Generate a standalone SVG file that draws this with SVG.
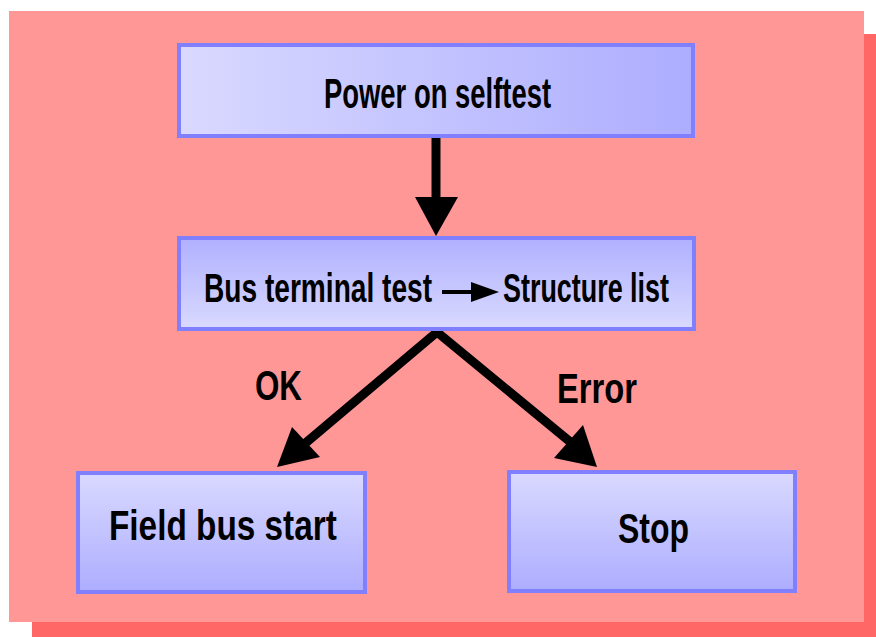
<svg xmlns="http://www.w3.org/2000/svg" width="876" height="637" viewBox="0 0 876 637">
  <defs>
    <linearGradient id="gH" x1="0" y1="0" x2="1" y2="0">
      <stop offset="0" stop-color="#d9d9ff"/>
      <stop offset="1" stop-color="#adadff"/>
    </linearGradient>
    <linearGradient id="gUp" x1="0" y1="0" x2="0" y2="1">
      <stop offset="0" stop-color="#b0b0ff"/>
      <stop offset="1" stop-color="#d9d9ff"/>
    </linearGradient>
    <linearGradient id="gDown" x1="0" y1="0" x2="0" y2="1">
      <stop offset="0" stop-color="#d9d9ff"/>
      <stop offset="1" stop-color="#adadff"/>
    </linearGradient>
  </defs>
  <style>
    .box { stroke: #8080ff; stroke-width: 4; }
    .lbl { font-family: "Liberation Sans", Arial, sans-serif; font-weight: bold; fill: #000; }
    .conn { stroke: #000; stroke-width: 9; fill: none; }
    .head { fill: #000; }
  </style>

  <g id="background">
    <rect x="32" y="34" width="844" height="603" fill="#ff6666"/>
    <rect x="9" y="11" width="855" height="611" fill="#ff9797"/>
  </g>

  <g id="connectors">
    <line class="conn" x1="436" y1="138" x2="436" y2="200"/>
    <polygon class="head" points="415,197 458,197 436,236"/>
    <polyline class="conn" points="302,446 437,332 574,445"/>
    <polygon class="head" points="277,467 292,427 320,457"/>
    <polygon class="head" points="597,467 583,425 554,458"/>
  </g>

  <g id="node-power">
    <rect class="box" x="179" y="45" width="514" height="91" fill="url(#gH)"/>
    <text class="lbl" transform="translate(324,108) scale(0.638,1)" font-size="43">Power on selftest</text>
  </g>

  <g id="node-bus-test">
    <rect class="box" x="179" y="238" width="515" height="91" fill="url(#gUp)"/>
    <text class="lbl" transform="translate(204,302) scale(0.703,1)" font-size="40">Bus terminal test</text>
    <rect x="442" y="290" width="31" height="4" fill="#000"/>
    <polygon points="471,282 471,302 499,292" fill="#000"/>
    <text class="lbl" transform="translate(503,302) scale(0.673,1)" font-size="40">Structure list</text>
  </g>

  <g id="node-field-bus">
    <rect class="box" x="78" y="473" width="287" height="119" fill="url(#gDown)"/>
    <text class="lbl" transform="translate(109,540) scale(0.794,1)" font-size="42">Field bus start</text>
  </g>

  <g id="node-stop">
    <rect class="box" x="509" y="472" width="286" height="119" fill="url(#gDown)"/>
    <text class="lbl" transform="translate(618,543) scale(0.761,1)" font-size="42">Stop</text>
  </g>

  <g id="labels">
    <text class="lbl" transform="translate(255,400) scale(0.729,1)" font-size="43">OK</text>
    <text class="lbl" transform="translate(557,403) scale(0.761,1)" font-size="43">Error</text>
  </g>
</svg>
